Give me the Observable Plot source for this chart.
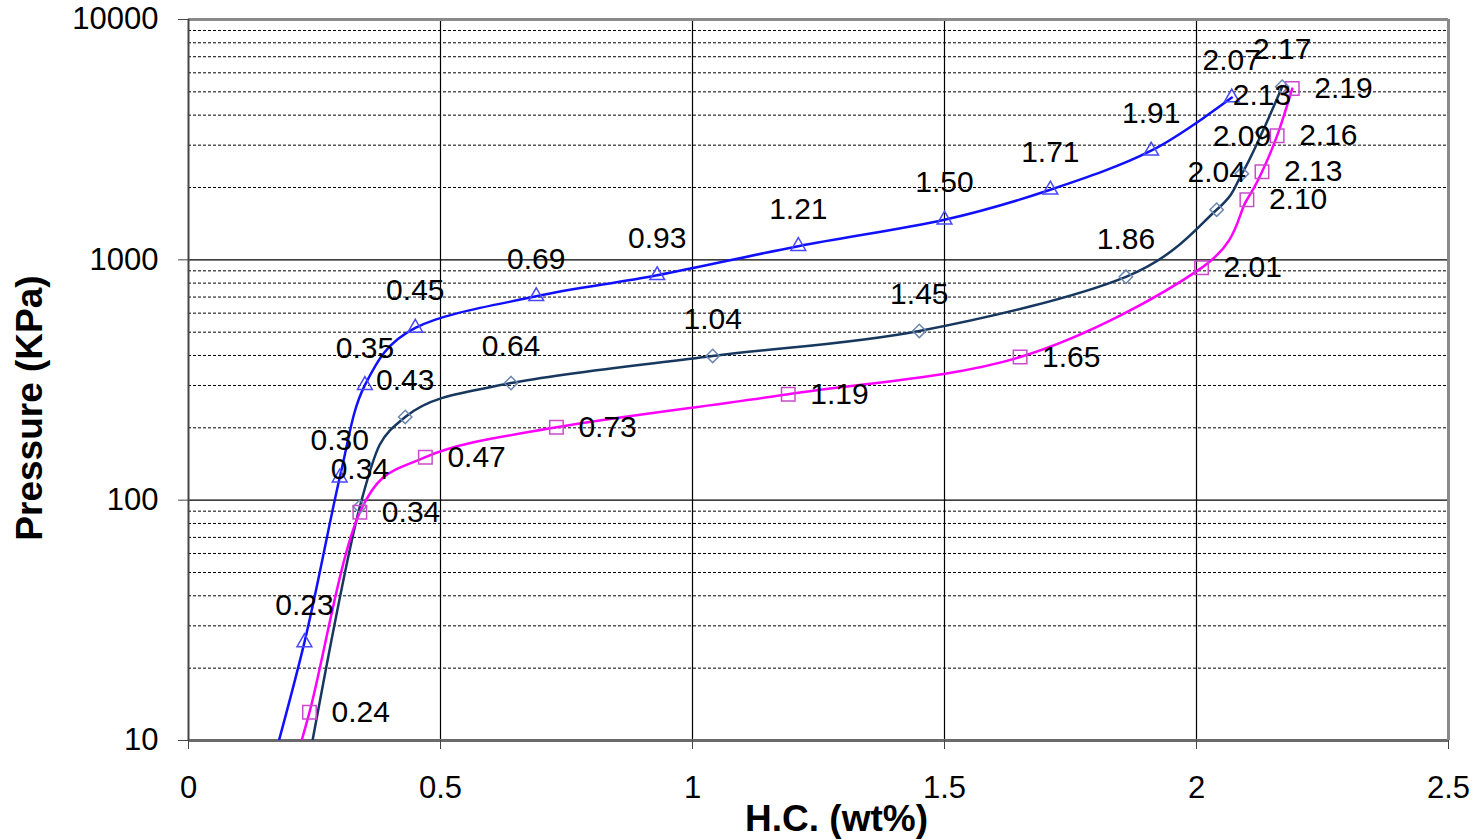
<!DOCTYPE html>
<html>
<head>
<meta charset="utf-8">
<script src="https://cdn.jsdelivr.net/npm/d3@7"></script>
<script src="https://cdn.jsdelivr.net/npm/@observablehq/plot@0.6"></script>
<style>
  html, body { margin: 0; padding: 0; background: #fff; }
  #chart { width: 1475px; height: 840px; overflow: hidden; }
</style>
</head>
<body>
<div id="chart"></div>
<script>
// ---- data ----
// Series A (blue, triangles)
const blueHC       = [0.14, 0.23, 0.30, 0.35, 0.45, 0.69, 0.93, 1.21, 1.50, 1.71, 1.91, 2.07];
const bluePressure = [5,    25.6, 124,  301,  521,  705,  862,  1140, 1468, 1957, 2844, 4732];
// Series B (dark blue, diamonds)
const navyHC       = [0.22, 0.34, 0.43, 0.64, 1.04, 1.45, 1.86, 2.04, 2.09, 2.13, 2.17];
const navyPressure = [5,    94,   222,  307,  398,  506,  850,  1616, 2281, 3383, 5255];
// Series C (magenta, squares)
const pinkHC       = [0.18, 0.24, 0.34, 0.47, 0.73, 1.19, 1.65, 2.01, 2.10, 2.13, 2.16, 2.19];
const pinkPressure = [5,    13.1, 89,   151,  201,  276,  394,  926,  1778, 2327, 3286, 5158];

const xTicks = [0, 0.5, 1, 1.5, 2, 2.5];
const yMajor = [10, 100, 1000, 10000];
const yMinor = [20,30,40,50,60,70,80,90, 200,300,400,500,600,700,800,900, 2000,3000,4000,5000,6000,7000,8000,9000];
const xLabel = "H.C. (wt%)";
const yLabel = "Pressure (KPa)";

const toRows = (xs, ys) => xs.map((x, i) => ({x, y: ys[i], label: x.toFixed(2)}));
const blue = toRows(blueHC, bluePressure);
const navy = toRows(navyHC, navyPressure);
const pink = toRows(pinkHC, pinkPressure);
const visible = rows => rows.filter(d => d.y >= 10 && d.y <= 10000);

const FONT = "Arial, 'Liberation Sans', sans-serif";
const smooth = d3.curveCatmullRom.alpha(0);

const chart = Plot.plot({
  width: 1475,
  height: 840,
  marginLeft: 188,
  marginRight: 27,
  marginTop: 19,
  marginBottom: 100,
  style: {fontFamily: FONT, fontSize: "30px", background: "#fff", color: "#000"},
  x: {domain: [0, 2.5]},
  y: {type: "log", domain: [10, 10000]},
  marks: [
    Plot.ruleY(yMinor, {stroke: "#000", strokeWidth: 1, strokeDasharray: "3,2"}),
    Plot.ruleY(yMajor.slice(1, 3), {stroke: "#000", strokeWidth: 1.2}),
    Plot.ruleX(xTicks.slice(1, 5), {stroke: "#000", strokeWidth: 1.2}),
    // frame
    Plot.ruleY([10000], {stroke: "#8a8a8a", strokeWidth: 3}),
    Plot.ruleY([10], {stroke: "#6a6a6a", strokeWidth: 3}),
    Plot.ruleX([2.5], {stroke: "#8a8a8a", strokeWidth: 3}),
    Plot.ruleX([0], {stroke: "#444", strokeWidth: 2}),
    // axes
    Plot.axisY({ticks: yMajor, tickFormat: d => String(d), tickSize: 10, tickPadding: 20,
      fontSize: 31, label: null, stroke: "#444"}),
    Plot.axisX({ticks: xTicks, tickFormat: d => String(d), tickSize: 9, tickPadding: 26,
      fontSize: 31, label: null, stroke: "#444"}),
    // lines
    Plot.line(blue, {x: "x", y: "y", stroke: "#1010ff", strokeWidth: 2.5, curve: smooth, clip: true}),
    Plot.line(navy, {x: "x", y: "y", stroke: "#17375e", strokeWidth: 2.5, curve: smooth, clip: true}),
    Plot.line(pink, {x: "x", y: "y", stroke: "#ff00ff", strokeWidth: 2.5, curve: smooth, clip: true}),
    // markers
    Plot.dot(visible(blue), {x: "x", y: "y", symbol: "triangle", r: 5.5, fill: "none", stroke: "#4848ff", strokeWidth: 1.5}),
    Plot.dot(visible(navy), {x: "x", y: "y", symbol: "diamond2", r: 6, fill: "none", stroke: "#6a88b0", strokeWidth: 1.5}),
    Plot.dot(visible(pink), {x: "x", y: "y", symbol: "square", r: 7.6, fill: "none", stroke: "#c84cc8", strokeWidth: 1.5}),
    // data labels
    Plot.text(visible(blue), {x: "x", y: "y", text: "label", dy: -37, lineAnchor: "middle",
      fontSize: 30, fill: "#000", fontFamily: FONT}),
    Plot.text(visible(navy), {x: "x", y: "y", text: "label", dy: -37, lineAnchor: "middle",
      fontSize: 30, fill: "#000", fontFamily: FONT}),
    Plot.text(visible(pink), {x: "x", y: "y", text: "label", dx: 22, textAnchor: "start", lineAnchor: "middle",
      fontSize: 30, fill: "#000", fontFamily: FONT}),
    // axis titles
    Plot.text([xLabel], {frameAnchor: "bottom", dx: 18, dy: 79, textAnchor: "middle", lineAnchor: "middle",
      fontSize: 37, fontWeight: "bold", fill: "#000", fontFamily: FONT}),
    Plot.text([yLabel], {frameAnchor: "left", dx: -158, dy: 28, rotate: -90, textAnchor: "middle", lineAnchor: "middle",
      fontSize: 37, fontWeight: "bold", fill: "#000", fontFamily: FONT})
  ]
});
document.getElementById("chart").appendChild(chart);
</script>
</body>
</html>
